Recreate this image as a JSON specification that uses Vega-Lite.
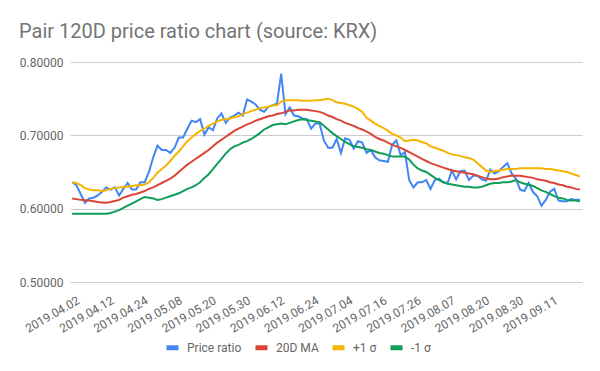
{
  "$schema": "https://vega.github.io/schema/vega-lite/v6.json",
  "autosize": "none",
  "padding": {"left": 70, "top": 62, "right": 18, "bottom": 89},
  "width": 512,
  "height": 220,
  "background": "white",
  "title": {"text": "Pair 120D price ratio chart (source: KRX)", "anchor": "start", "frame": "group", "dx": -51, "offset": 14, "fontSize": 20, "font": "Roboto", "fontWeight": "normal", "color": "#757575"},
  "data": {"values": [
    {"d":"2019.04.02","p":0.636,"m":0.614,"u":0.636,"l":0.593},
    {"d":"2019.04.03","p":0.632,"m":0.613,"u":0.635,"l":0.593},
    {"d":"2019.04.04","p":0.620,"m":0.612,"u":0.632,"l":0.593},
    {"d":"2019.04.05","p":0.608,"m":0.6115,"u":0.628,"l":0.593},
    {"d":"2019.04.08","p":0.614,"m":0.611,"u":0.626,"l":0.593},
    {"d":"2019.04.09","p":0.615,"m":0.610,"u":0.625,"l":0.593},
    {"d":"2019.04.10","p":0.618,"m":0.609,"u":0.625,"l":0.593},
    {"d":"2019.04.11","p":0.623,"m":0.6085,"u":0.624,"l":0.593},
    {"d":"2019.04.12","p":0.629,"m":0.608,"u":0.625,"l":0.593},
    {"d":"2019.04.15","p":0.626,"m":0.609,"u":0.627,"l":0.594},
    {"d":"2019.04.16","p":0.629,"m":0.6105,"u":0.628,"l":0.596},
    {"d":"2019.04.17","p":0.618,"m":0.612,"u":0.629,"l":0.598},
    {"d":"2019.04.18","p":0.627,"m":0.615,"u":0.630,"l":0.601},
    {"d":"2019.04.19","p":0.635,"m":0.617,"u":0.630,"l":0.604},
    {"d":"2019.04.22","p":0.626,"m":0.619,"u":0.631,"l":0.607},
    {"d":"2019.04.23","p":0.626,"m":0.620,"u":0.632,"l":0.610},
    {"d":"2019.04.24","p":0.636,"m":0.622,"u":0.632,"l":0.613},
    {"d":"2019.04.25","p":0.636,"m":0.624,"u":0.633,"l":0.616},
    {"d":"2019.04.26","p":0.650,"m":0.627,"u":0.636,"l":0.615},
    {"d":"2019.04.29","p":0.670,"m":0.629,"u":0.642,"l":0.614},
    {"d":"2019.04.30","p":0.686,"m":0.632,"u":0.649,"l":0.612},
    {"d":"2019.05.02","p":0.680,"m":0.635,"u":0.654,"l":0.613},
    {"d":"2019.05.03","p":0.680,"m":0.638,"u":0.659,"l":0.615},
    {"d":"2019.05.07","p":0.676,"m":0.641,"u":0.665,"l":0.617},
    {"d":"2019.05.08","p":0.683,"m":0.645,"u":0.672,"l":0.619},
    {"d":"2019.05.09","p":0.697,"m":0.650,"u":0.678,"l":0.621},
    {"d":"2019.05.10","p":0.697,"m":0.655,"u":0.685,"l":0.624},
    {"d":"2019.05.13","p":0.709,"m":0.660,"u":0.692,"l":0.627},
    {"d":"2019.05.14","p":0.720,"m":0.664,"u":0.697,"l":0.629},
    {"d":"2019.05.15","p":0.718,"m":0.668,"u":0.702,"l":0.632},
    {"d":"2019.05.16","p":0.722,"m":0.672,"u":0.706,"l":0.636},
    {"d":"2019.05.17","p":0.701,"m":0.676,"u":0.709,"l":0.642},
    {"d":"2019.05.20","p":0.711,"m":0.680,"u":0.713,"l":0.647},
    {"d":"2019.05.21","p":0.707,"m":0.685,"u":0.716,"l":0.654},
    {"d":"2019.05.22","p":0.723,"m":0.690,"u":0.719,"l":0.661},
    {"d":"2019.05.23","p":0.730,"m":0.694,"u":0.721,"l":0.668},
    {"d":"2019.05.24","p":0.717,"m":0.698,"u":0.722,"l":0.675},
    {"d":"2019.05.27","p":0.724,"m":0.702,"u":0.723,"l":0.681},
    {"d":"2019.05.28","p":0.727,"m":0.706,"u":0.725,"l":0.685},
    {"d":"2019.05.29","p":0.731,"m":0.709,"u":0.726,"l":0.687},
    {"d":"2019.05.30","p":0.727,"m":0.712,"u":0.729,"l":0.690},
    {"d":"2019.05.31","p":0.749,"m":0.715,"u":0.731,"l":0.692},
    {"d":"2019.06.03","p":0.746,"m":0.717,"u":0.733,"l":0.695},
    {"d":"2019.06.04","p":0.742,"m":0.720,"u":0.735,"l":0.699},
    {"d":"2019.06.05","p":0.735,"m":0.722,"u":0.737,"l":0.703},
    {"d":"2019.06.07","p":0.732,"m":0.724,"u":0.738,"l":0.708},
    {"d":"2019.06.10","p":0.739,"m":0.726,"u":0.739,"l":0.711},
    {"d":"2019.06.11","p":0.741,"m":0.727,"u":0.741,"l":0.714},
    {"d":"2019.06.12","p":0.743,"m":0.729,"u":0.741,"l":0.715},
    {"d":"2019.06.13","p":0.784,"m":0.730,"u":0.746,"l":0.716},
    {"d":"2019.06.14","p":0.729,"m":0.732,"u":0.748,"l":0.715},
    {"d":"2019.06.17","p":0.738,"m":0.734,"u":0.748,"l":0.717},
    {"d":"2019.06.18","p":0.727,"m":0.734,"u":0.748,"l":0.719},
    {"d":"2019.06.19","p":0.726,"m":0.735,"u":0.748,"l":0.721},
    {"d":"2019.06.20","p":0.723,"m":0.735,"u":0.747,"l":0.722},
    {"d":"2019.06.21","p":0.722,"m":0.735,"u":0.747,"l":0.721},
    {"d":"2019.06.24","p":0.709,"m":0.734,"u":0.747,"l":0.720},
    {"d":"2019.06.25","p":0.716,"m":0.733,"u":0.748,"l":0.719},
    {"d":"2019.06.26","p":0.716,"m":0.732,"u":0.748,"l":0.718},
    {"d":"2019.06.27","p":0.693,"m":0.730,"u":0.749,"l":0.713},
    {"d":"2019.06.28","p":0.683,"m":0.727,"u":0.750,"l":0.708},
    {"d":"2019.07.01","p":0.683,"m":0.725,"u":0.748,"l":0.703},
    {"d":"2019.07.02","p":0.695,"m":0.722,"u":0.745,"l":0.699},
    {"d":"2019.07.03","p":0.676,"m":0.720,"u":0.744,"l":0.695},
    {"d":"2019.07.04","p":0.696,"m":0.717,"u":0.743,"l":0.691},
    {"d":"2019.07.05","p":0.694,"m":0.715,"u":0.741,"l":0.688},
    {"d":"2019.07.08","p":0.682,"m":0.713,"u":0.739,"l":0.685},
    {"d":"2019.07.09","p":0.692,"m":0.710,"u":0.736,"l":0.684},
    {"d":"2019.07.10","p":0.690,"m":0.708,"u":0.732,"l":0.683},
    {"d":"2019.07.11","p":0.676,"m":0.705,"u":0.724,"l":0.681},
    {"d":"2019.07.12","p":0.680,"m":0.702,"u":0.720,"l":0.680},
    {"d":"2019.07.15","p":0.670,"m":0.698,"u":0.716,"l":0.678},
    {"d":"2019.07.16","p":0.666,"m":0.695,"u":0.713,"l":0.676},
    {"d":"2019.07.17","p":0.665,"m":0.693,"u":0.710,"l":0.675},
    {"d":"2019.07.18","p":0.664,"m":0.690,"u":0.706,"l":0.673},
    {"d":"2019.07.19","p":0.687,"m":0.687,"u":0.702,"l":0.671},
    {"d":"2019.07.22","p":0.693,"m":0.685,"u":0.700,"l":0.671},
    {"d":"2019.07.23","p":0.673,"m":0.683,"u":0.697,"l":0.671},
    {"d":"2019.07.24","p":0.677,"m":0.680,"u":0.692,"l":0.671},
    {"d":"2019.07.25","p":0.639,"m":0.677,"u":0.693,"l":0.667},
    {"d":"2019.07.26","p":0.629,"m":0.674,"u":0.694,"l":0.660},
    {"d":"2019.07.29","p":0.636,"m":0.671,"u":0.693,"l":0.655},
    {"d":"2019.07.30","p":0.636,"m":0.668,"u":0.691,"l":0.652},
    {"d":"2019.07.31","p":0.639,"m":0.665,"u":0.689,"l":0.650},
    {"d":"2019.08.01","p":0.627,"m":0.662,"u":0.685,"l":0.646},
    {"d":"2019.08.02","p":0.639,"m":0.660,"u":0.683,"l":0.642},
    {"d":"2019.08.05","p":0.641,"m":0.658,"u":0.681,"l":0.639},
    {"d":"2019.08.06","p":0.636,"m":0.656,"u":0.679,"l":0.636},
    {"d":"2019.08.07","p":0.635,"m":0.654,"u":0.676,"l":0.634},
    {"d":"2019.08.08","p":0.652,"m":0.652,"u":0.674,"l":0.633},
    {"d":"2019.08.09","p":0.640,"m":0.651,"u":0.673,"l":0.632},
    {"d":"2019.08.12","p":0.651,"m":0.650,"u":0.672,"l":0.631},
    {"d":"2019.08.13","p":0.652,"m":0.649,"u":0.670,"l":0.630},
    {"d":"2019.08.14","p":0.639,"m":0.648,"u":0.669,"l":0.630},
    {"d":"2019.08.16","p":0.645,"m":0.647,"u":0.667,"l":0.629},
    {"d":"2019.08.19","p":0.645,"m":0.645,"u":0.662,"l":0.629},
    {"d":"2019.08.20","p":0.640,"m":0.643,"u":0.657,"l":0.630},
    {"d":"2019.08.21","p":0.638,"m":0.641,"u":0.652,"l":0.632},
    {"d":"2019.08.22","p":0.653,"m":0.640,"u":0.650,"l":0.634},
    {"d":"2019.08.23","p":0.648,"m":0.640,"u":0.651,"l":0.635},
    {"d":"2019.08.26","p":0.651,"m":0.641,"u":0.652,"l":0.635},
    {"d":"2019.08.27","p":0.657,"m":0.643,"u":0.653,"l":0.636},
    {"d":"2019.08.28","p":0.662,"m":0.644,"u":0.654,"l":0.636},
    {"d":"2019.08.29","p":0.648,"m":0.645,"u":0.654,"l":0.637},
    {"d":"2019.08.30","p":0.641,"m":0.645,"u":0.654,"l":0.639},
    {"d":"2019.09.02","p":0.626,"m":0.645,"u":0.655,"l":0.636},
    {"d":"2019.09.03","p":0.624,"m":0.644,"u":0.655,"l":0.634},
    {"d":"2019.09.04","p":0.635,"m":0.643,"u":0.655,"l":0.633},
    {"d":"2019.09.05","p":0.623,"m":0.642,"u":0.655,"l":0.631},
    {"d":"2019.09.06","p":0.617,"m":0.640,"u":0.655,"l":0.628},
    {"d":"2019.09.09","p":0.604,"m":0.639,"u":0.655,"l":0.625},
    {"d":"2019.09.10","p":0.612,"m":0.638,"u":0.654,"l":0.623},
    {"d":"2019.09.11","p":0.623,"m":0.636,"u":0.654,"l":0.620},
    {"d":"2019.09.16","p":0.627,"m":0.635,"u":0.653,"l":0.617},
    {"d":"2019.09.17","p":0.611,"m":0.633,"u":0.652,"l":0.615},
    {"d":"2019.09.18","p":0.610,"m":0.632,"u":0.651,"l":0.614},
    {"d":"2019.09.19","p":0.610,"m":0.630,"u":0.650,"l":0.612},
    {"d":"2019.09.20","p":0.613,"m":0.629,"u":0.648,"l":0.611},
    {"d":"2019.09.23","p":0.612,"m":0.627,"u":0.646,"l":0.611},
    {"d":"2019.09.24","p":0.612,"m":0.626,"u":0.644,"l":0.610}
  ]},
  "transform": [{"fold": ["p", "m", "u", "l"], "as": ["series", "value"]}],
  "mark": {"type": "line", "strokeWidth": 2},
  "encoding": {
    "x": {
      "field": "d", "type": "ordinal", "sort": null,
      "scale": {"type": "point", "padding": 0.5},
      "axis": {
        "title": null, "ticks": false, "domain": false, "grid": false,
        "values": ["2019.04.02","2019.04.12","2019.04.24","2019.05.08","2019.05.20","2019.05.30","2019.06.12","2019.06.24","2019.07.04","2019.07.16","2019.07.26","2019.08.07","2019.08.20","2019.08.30","2019.09.11"],
        "labelAngle": -30, "labelAlign": "right", "labelBaseline": "middle",
        "labelPadding": 17, "labelOffset": 6,
        "labelFont": "Roboto", "labelFontSize": 12, "labelColor": "#666666"
      }
    },
    "y": {
      "field": "value", "type": "quantitative",
      "scale": {"domain": [0.5, 0.8], "nice": false, "zero": false},
      "axis": {
        "title": null, "values": [0.5, 0.6, 0.7, 0.8], "format": ".5f",
        "domain": false, "ticks": false, "gridColor": "#cccccc", "labelPadding": 7,
        "labelFont": "Roboto", "labelFontSize": 12, "labelColor": "#666666"
      }
    },
    "color": {
      "field": "series", "type": "nominal",
      "scale": {"domain": ["p", "m", "u", "l"], "range": ["#4285F4", "#DB4437", "#F4B400", "#0F9D58"]},
      "legend": {
        "title": null, "orient": "none", "direction": "horizontal",
        "legendX": 94, "legendY": 277,
        "labelExpr": "datum.label == 'p' ? 'Price ratio' : datum.label == 'm' ? '20D MA' : datum.label == 'u' ? '+1 σ' : '-1 σ'",
        "symbolType": "stroke", "symbolSize": 144, "symbolStrokeWidth": 5,
        "labelOffset": 6, "columnPadding": 3, "padding": 0,
        "labelFont": "Roboto", "labelFontSize": 12, "labelColor": "#666666"
      }
    }
  },
  "config": {"view": {"stroke": null}}
}
